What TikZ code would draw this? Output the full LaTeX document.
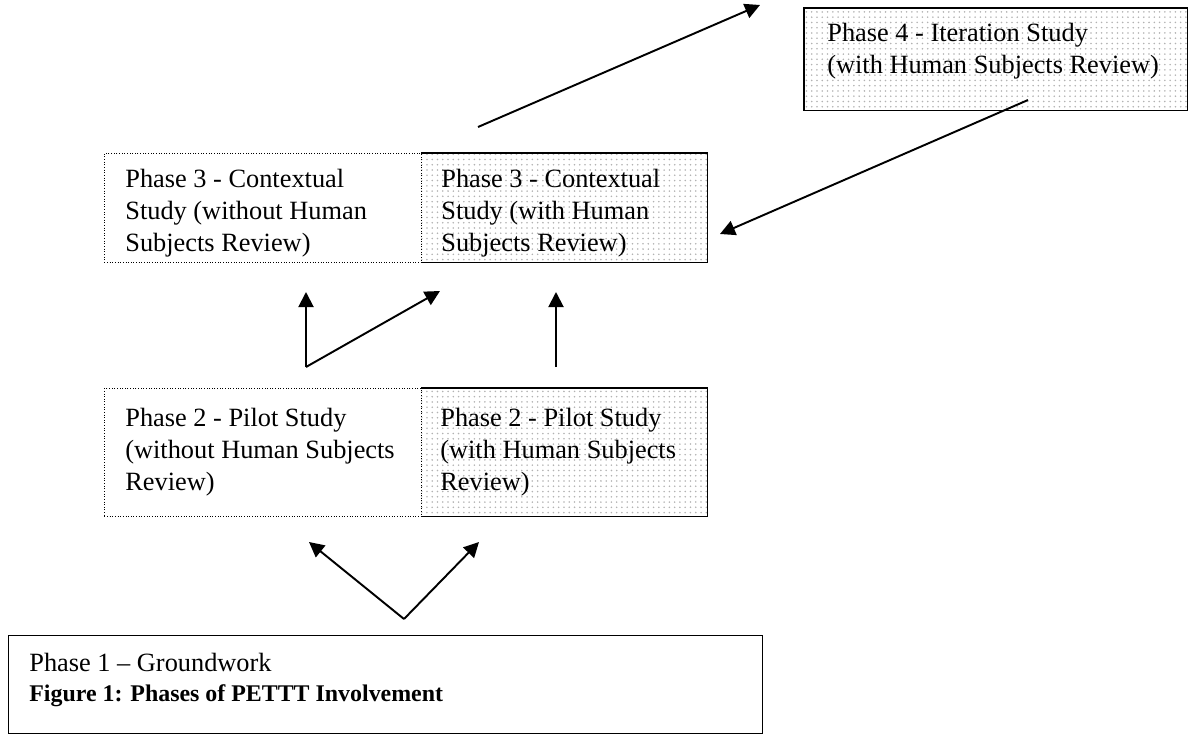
\documentclass[tikz,border=0pt]{standalone}
\usepackage{fontspec}
\setmainfont{Liberation Serif}
\usetikzlibrary{arrows.meta, positioning, patterns}

\begin{document}
\begin{tikzpicture}[
  x=0.02cm, y=-0.02cm,
  >={Triangle[length=0.3cm, width=0.3cm]},
  dotbox/.style={rectangle, draw, densely dotted, line width=0.5pt, anchor=north west, inner sep=0pt},
  shadebox/.style={rectangle, pattern=dots, pattern color=gray!60, anchor=north west, inner sep=0pt},
  solidbox/.style={rectangle, draw, line width=0.8pt, anchor=north west, inner sep=0pt},
  boxtext/.style={anchor=north west, align=left, inner sep=0pt, font=\fontsize{15}{18.2}\selectfont},
  flow/.style={->, line width=1.1pt},
]
  \useasboundingbox (0,0) rectangle (1188,734);

  % phase 4
  \node[shadebox, minimum width=7.66cm, minimum height=2.04cm] (p4) at (804,8) {};
  \draw[line width=0.8pt] (p4.north west) rectangle (p4.south east);
  \node[boxtext] (p4txt) at (827,23) {Phase 4 - Iteration Study\\(with Human Subjects Review)};

  % phase 3
  \node[shadebox, minimum width=5.72cm, minimum height=2.18cm] (p3b) at (421,153) {};
  \draw[line width=0.8pt] (p3b.north west) -- (p3b.north east) -- (p3b.south east) -- (p3b.south west);
  \node[dotbox, minimum width=6.34cm, minimum height=2.18cm] (p3a) at (104,153) {};
  \node[boxtext] (p3atxt) at (125,169) {Phase 3 - Contextual\\Study (without Human\\Subjects Review)};
  \node[boxtext] (p3btxt) at (441,169) {Phase 3 - Contextual\\Study (with Human\\Subjects Review)};

  % phase 2
  \node[shadebox, minimum width=5.72cm, minimum height=2.56cm] (p2b) at (421,388) {};
  \draw[line width=0.8pt] (p2b.north west) -- (p2b.north east) -- (p2b.south east) -- (p2b.south west);
  \node[dotbox, minimum width=6.34cm, minimum height=2.56cm] (p2a) at (104,388) {};
  \node[boxtext] (p2atxt) at (125,408) {Phase 2 - Pilot Study\\(without Human Subjects\\Review)};
  \node[boxtext] (p2btxt) at (440,408) {Phase 2 - Pilot Study\\(with Human Subjects\\Review)};

  % phase 1
  \node[solidbox, minimum width=15.08cm, minimum height=1.96cm] (p1) at (8,635) {};
  \node[boxtext] (p1txt) at (29,653) {Phase 1 -- Groundwork\\[-1pt]{\fontsize{13.6}{16}\bfseries Figure 1: Phases of PETTT Involvement}};

  % arrow ends
  \coordinate (v0) at (404,619);
  \coordinate (v1) at (309,542);
  \coordinate (v2) at (479,542);
  \coordinate (u0) at (306,367);
  \coordinate (u1) at (306,292);
  \coordinate (u2) at (440,291);
  \coordinate (w0) at (556,367);
  \coordinate (w1) at (556,292);
  \coordinate (s0) at (478,127);
  \coordinate (s1) at (760,5);
  \coordinate (r0) at (1028,100);
  \coordinate (r1) at (720,234);

  \draw[flow] (v0) -- (v1);
  \draw[flow] (v0) -- (v2);
  \draw[flow] (u0) -- (u1);
  \draw[flow] (u0) -- (u2);
  \draw[flow] (w0) -- (w1);
  \draw[flow] (s0) -- (s1);
  \draw[flow] (r0) -- (r1);
\end{tikzpicture}
\end{document}
